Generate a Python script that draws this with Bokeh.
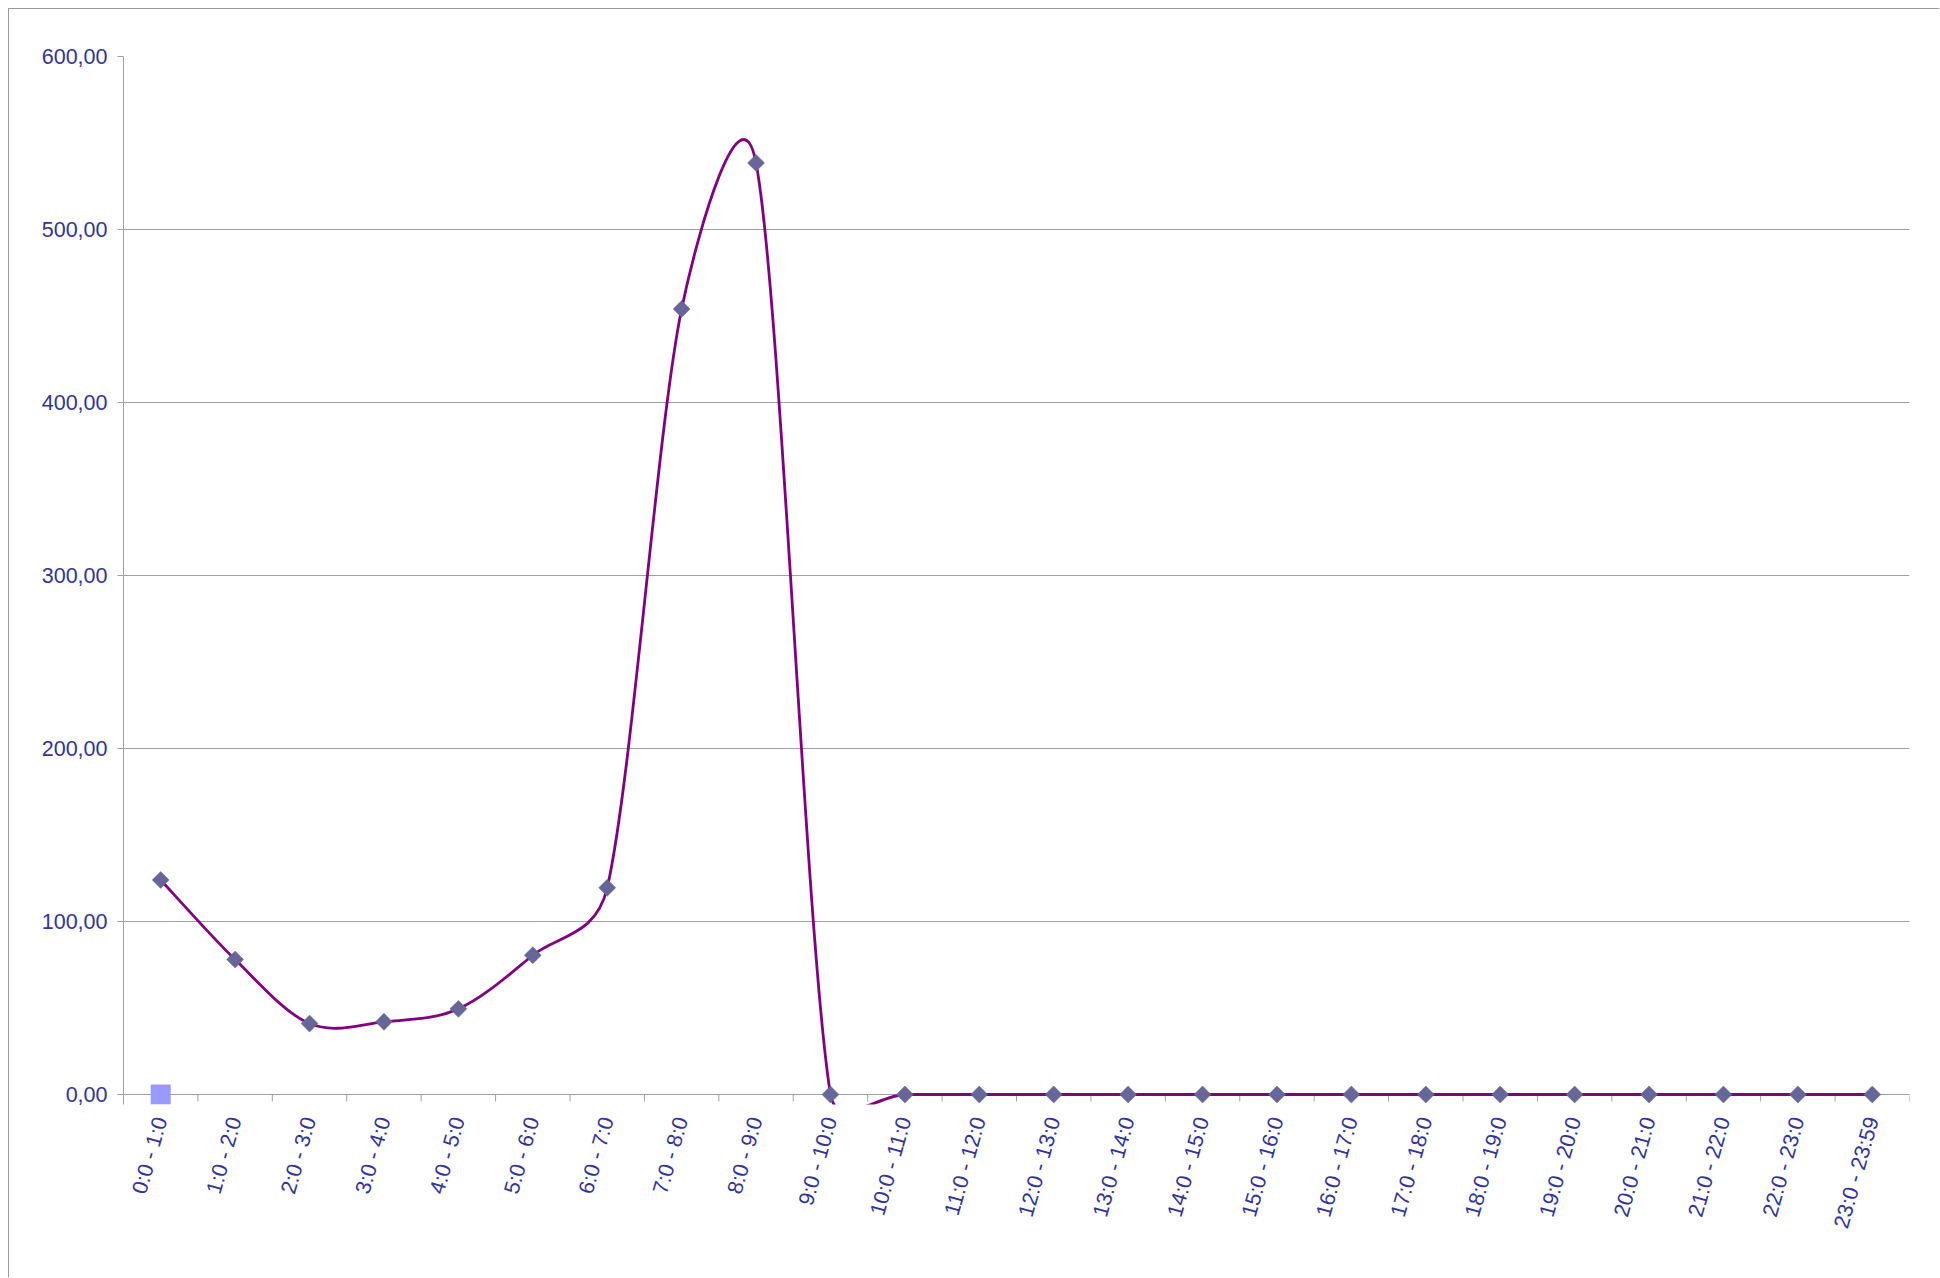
import numpy as np
from bokeh.plotting import figure
from bokeh.models import FixedTicker, Range1d
from bokeh.embed import file_html
from bokeh.resources import INLINE

# ---------------- data ----------------
categories = ["0:0 - 1:0", "1:0 - 2:0", "2:0 - 3:0", "3:0 - 4:0", "4:0 - 5:0",
              "5:0 - 6:0", "6:0 - 7:0", "7:0 - 8:0", "8:0 - 9:0", "9:0 - 10:0",
              "10:0 - 11:0", "11:0 - 12:0", "12:0 - 13:0", "13:0 - 14:0",
              "14:0 - 15:0", "15:0 - 16:0", "16:0 - 17:0", "17:0 - 18:0",
              "18:0 - 19:0", "19:0 - 20:0", "20:0 - 21:0", "21:0 - 22:0",
              "22:0 - 23:0", "23:0 - 23:59"]
values = [124.0, 78.0, 41.0, 42.0, 49.5, 80.5, 119.5, 454.0, 538.5, 0.0,
          0.0, 0.0, 0.0, 0.0, 0.0, 0.0, 0.0, 0.0, 0.0, 0.0, 0.0, 0.0, 0.0, 0.0]
second_series = [0.0]          # second series: only first category
y_ticks = [0, 100, 200, 300, 400, 500, 600]
y_tick_labels = ["0,00", "100,00", "200,00", "300,00", "400,00", "500,00", "600,00"]

# ---------------- layout ----------------
W, H = 1931, 1269
LEFT, TOP, RIGHT, BOTTOM = 114, 47, 31, 174
frame_w = W - LEFT - RIGHT
frame_h = H - TOP - BOTTOM
Y_MIN, Y_MAX = -5.78, 600.0
N = len(categories)

FONT = "Liberation Sans"
TXT = "#333399"
GRID = "#a0a0a0"

p = figure(width=W, height=H, output_backend="svg", toolbar_location=None,
           x_range=Range1d(0, N), y_range=Range1d(Y_MIN, Y_MAX),
           min_border_left=LEFT, min_border_right=RIGHT,
           min_border_top=TOP, min_border_bottom=BOTTOM,
           background_fill_color="white", border_fill_color="white",
           outline_line_color=None,
           styles={"margin-left": "8px", "margin-top": "8px",
                   "border-left": "1px solid #9a9a9a",
                   "border-top": "1px solid #9a9a9a"})

# ---------------- axes ----------------
yax = p.yaxis[0]
yax.ticker = FixedTicker(ticks=y_ticks, minor_ticks=[])
yax.major_label_overrides = {t: l for t, l in zip(y_ticks, y_tick_labels)}
yax.major_label_text_font = FONT
yax.major_label_text_font_size = "21.5px"
yax.major_label_text_color = TXT
yax.axis_line_color = GRID
yax.major_tick_line_color = GRID
yax.major_tick_out = 6
yax.major_tick_in = 0
yax.minor_tick_line_color = None
yax.major_label_standoff = 10

xax = p.xaxis[0]
centers = [i + 0.5 for i in range(N)]
xax.ticker = FixedTicker(ticks=centers, minor_ticks=[])
xax.major_label_overrides = {c: cat for c, cat in zip(centers, categories)}
xax.major_label_orientation = np.deg2rad(74)
xax.major_label_text_font = FONT
xax.major_label_text_font_size = "21.5px"
xax.major_label_text_color = TXT
xax.axis_line_color = None
xax.major_tick_line_color = None
xax.minor_tick_line_color = None
xax.major_tick_out = 0
xax.major_tick_in = 0
xax.major_label_standoff = 13

p.xgrid.grid_line_color = None
p.ygrid.ticker = FixedTicker(ticks=y_ticks, minor_ticks=[])
p.ygrid.grid_line_color = GRID
p.ygrid.grid_line_width = 1

# category boundary tick marks below the zero line (7 px long)
sy_px = frame_h / (Y_MAX - Y_MIN)
bounds = list(range(N + 1))
p.segment(x0=bounds, y0=[0] * len(bounds), x1=bounds, y1=[-7 / sy_px] * len(bounds),
          line_color=GRID, line_width=1)

# ---------------- smoothed line (Excel-style bezier) ----------------
sx = frame_w / N
sy = sy_px
P = [np.array([c * sx, v * sy]) for c, v in zip(centers, values)]
x0, y0, x1, y1, cx0, cy0, cx1, cy1 = ([] for _ in range(8))
for i in range(N - 1):
    p0 = P[i - 1] if i > 0 else P[i]
    p1, p2 = P[i], P[i + 1]
    p3 = P[i + 2] if i + 2 < N else P[i + 1]
    half = np.linalg.norm(p2 - p1) / 2
    t1 = (p2 - p0) / 6
    t2 = (p3 - p1) / 6
    n1, n2 = np.linalg.norm(t1), np.linalg.norm(t2)
    if n1 > half and n1 > 0:
        t1 = t1 * half / n1
    if n2 > half and n2 > 0:
        t2 = t2 * half / n2
    c1 = p1 + t1
    c2 = p2 - t2
    x0.append(p1[0] / sx); y0.append(p1[1] / sy)
    x1.append(p2[0] / sx); y1.append(p2[1] / sy)
    cx0.append(c1[0] / sx); cy0.append(c1[1] / sy)
    cx1.append(c2[0] / sx); cy1.append(c2[1] / sy)

p.bezier(x0=x0, y0=y0, x1=x1, y1=y1, cx0=cx0, cy0=cy0, cx1=cx1, cy1=cy1,
         line_color="#800080", line_width=2.8, line_cap="round")

p.scatter(centers, values, marker="square", angle=np.pi / 4, size=12,
          fill_color="#666699", line_color="#666699", line_width=0.5)
p.scatter(centers[:len(second_series)], second_series, marker="square", size=20,
          fill_color="#9999ff", line_color=None)

open("out.html", "w").write(file_html(p, INLINE))
